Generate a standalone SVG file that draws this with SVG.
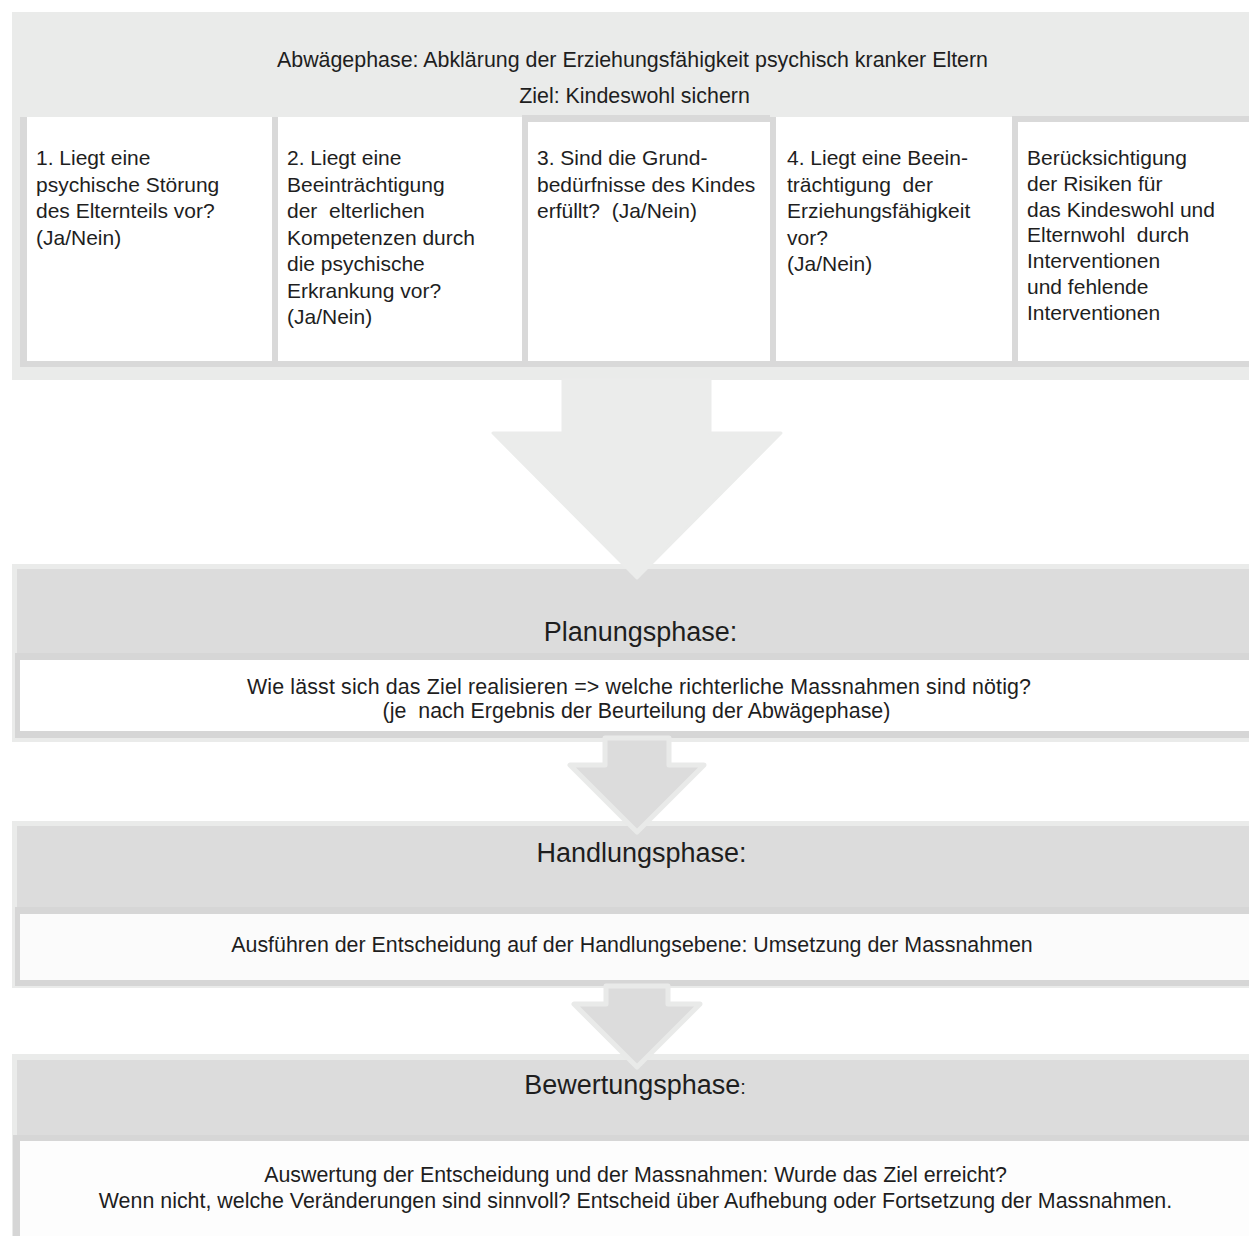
<svg xmlns="http://www.w3.org/2000/svg" width="1249" height="1236" viewBox="0 0 1249 1236">
<style>
text{font-family:"Liberation Sans",Arial,sans-serif;fill:#1e1e1e;white-space:pre}
.t{font-size:21px}
.h{font-size:27px;text-anchor:middle}
.c{font-size:21.4px;text-anchor:middle}
.lt{fill:#eaebea}
.hd{fill:#dcdcdc}
.bd{fill:#d6d6d6}
.bx{fill:#d9d9d9}
.wh{fill:#ffffff}
.arr{fill:#dcdcdc;stroke:#e9eae9;stroke-width:5;stroke-linejoin:round}
</style>
<rect width="1249" height="1236" fill="#ffffff"/>

<g id="abwaegephase">
<rect class="lt" x="12" y="12" width="1237" height="368"/>
<text class="c" x="632.5" y="67">Abwägephase: Abklärung der Erziehungsfähigkeit psychisch kranker Eltern</text>
<text class="c" x="634.5" y="103">Ziel: Kindeswohl sichern</text>
</g>

<g id="box1">
<rect class="bx" x="20" y="117" width="252" height="250"/>
<rect class="wh" x="27" y="117" width="245" height="244"/>
<text class="t" x="36" y="165"><tspan x="36">1. Liegt eine</tspan><tspan x="36" dy="26.5">psychische Störung</tspan><tspan x="36" dy="26.5">des Elternteils vor?</tspan><tspan x="36" dy="26.5">(Ja/Nein)</tspan></text>
</g>

<g id="box2">
<rect class="bx" x="272" y="117" width="250" height="250"/>
<rect class="wh" x="278" y="117" width="244" height="244"/>
<text class="t" x="287" y="165"><tspan x="287">2. Liegt eine</tspan><tspan x="287" dy="26.5">Beeinträchtigung</tspan><tspan x="287" dy="26.5">der  elterlichen</tspan><tspan x="287" dy="26.5">Kompetenzen durch</tspan><tspan x="287" dy="26.5">die psychische</tspan><tspan x="287" dy="26.5">Erkrankung vor?</tspan><tspan x="287" dy="26.5">(Ja/Nein)</tspan></text>
</g>

<g id="box3">
<rect class="bx" x="522" y="115" width="248" height="252"/>
<rect class="wh" x="528" y="122" width="242" height="239"/>
<text class="t" x="537" y="165"><tspan x="537">3. Sind die Grund-</tspan><tspan x="537" dy="26.5">bedürfnisse des Kindes</tspan><tspan x="537" dy="26.5">erfüllt?  (Ja/Nein)</tspan></text>
</g>

<g id="box4">
<rect class="bx" x="770" y="117" width="242" height="250"/>
<rect class="wh" x="776" y="117" width="236" height="244"/>
<text class="t" x="787" y="165"><tspan x="787">4. Liegt eine Beein-</tspan><tspan x="787" dy="26.5">trächtigung  der</tspan><tspan x="787" dy="26.5">Erziehungsfähigkeit</tspan><tspan x="787" dy="26.5">vor?</tspan><tspan x="787" dy="26.5">(Ja/Nein)</tspan></text>
</g>

<g id="box5">
<rect class="bx" x="1012" y="116" width="237" height="251"/>
<rect class="wh" x="1018" y="122" width="231" height="239"/>
<text class="t" x="1027" y="165"><tspan x="1027">Berücksichtigung</tspan><tspan x="1027" dy="25.8">der Risiken für</tspan><tspan x="1027" dy="25.8">das Kindeswohl und</tspan><tspan x="1027" dy="25.8">Elternwohl  durch</tspan><tspan x="1027" dy="25.8">Interventionen</tspan><tspan x="1027" dy="25.8">und fehlende</tspan><tspan x="1027" dy="25.8">Interventionen</tspan></text>
</g>

<g id="planungsphase">
<rect class="lt" x="12" y="564" width="1237" height="178"/>
<rect class="hd" x="17" y="569" width="1232" height="85"/>
<rect class="bd" x="15" y="653" width="1234" height="85"/>
<rect class="wh" x="20" y="660" width="1229" height="71"/>
<text class="h" x="640.5" y="641">Planungsphase:</text>
<text class="c" x="639" y="694" textLength="784" lengthAdjust="spacing">Wie lässt sich das Ziel realisieren => welche richterliche Massnahmen sind nötig?</text>
<text class="c" x="636.5" y="718">(je  nach Ergebnis der Beurteilung der Abwägephase)</text>
</g>

<g id="handlungsphase">
<rect class="lt" x="12" y="821" width="1237" height="167"/>
<rect class="hd" x="17" y="826" width="1232" height="82"/>
<rect class="bd" x="15" y="907" width="1234" height="79"/>
<rect fill="#fbfbfb" x="20" y="914" width="1229" height="66"/>
<text class="h" x="641.5" y="862">Handlungsphase:</text>
<text class="c" x="632" y="952">Ausführen der Entscheidung auf der Handlungsebene: Umsetzung der Massnahmen</text>
</g>

<g id="bewertungsphase">
<rect class="lt" x="12" y="1054" width="1237" height="182"/>
<rect class="hd" x="17" y="1060" width="1232" height="76"/>
<rect class="bd" x="13" y="1135" width="1236" height="101"/>
<rect fill="#fdfdfd" x="20" y="1141" width="1229" height="95"/>
<text class="h" x="635" y="1094">Bewertungsphase<tspan font-size="20">:</tspan></text>
<text class="c" x="635.5" y="1182">Auswertung der Entscheidung und der Massnahmen: Wurde das Ziel erreicht?</text>
<text class="c" x="635.5" y="1208">Wenn nicht, welche Veränderungen sind sinnvoll? Entscheid über Aufhebung oder Fortsetzung der Massnahmen.</text>
</g>

<g id="connectors">
<path fill="#ebeceb" stroke="#ebeceb" stroke-width="3" stroke-linejoin="round" d="M563 380 H710 V433 H781 L637 578 L493 433 H563 Z"/>
<path class="arr" d="M605 738 H669 V765 H704 L637 832 L570 765 H605 Z"/>
<path class="arr" d="M606 986 H668 V1004 H700 L637 1067 L574 1004 H606 Z"/>
</g>
</svg>
